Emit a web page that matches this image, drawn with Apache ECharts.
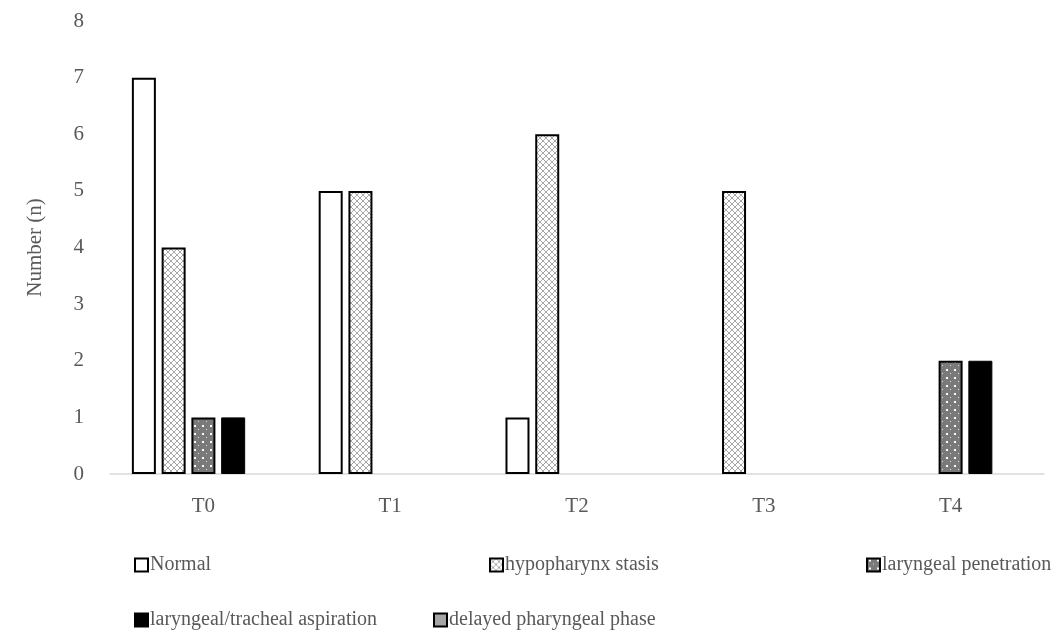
<!DOCTYPE html>
<html>
<head>
<meta charset="utf-8">
<script src="https://cdn.jsdelivr.net/npm/echarts@6/dist/echarts.min.js"></script>
<style>
html,body{margin:0;padding:0;background:#fff;}
#chart{width:1053px;height:637px;}
</style>
</head>
<body>
<div id="chart"></div>
<script>
var categories = ['T0', 'T1', 'T2', 'T3', 'T4'];
var seriesNames = ['Normal', 'hypopharynx stasis', 'laryngeal penetration', 'laryngeal/tracheal aspiration', 'delayed pharyngeal phase'];
var normal = [7, 5, 1, 0, 0];
var hypopharynxStasis = [4, 5, 6, 5, 0];
var laryngealPenetration = [1, 0, 0, 0, 2];
var aspiration = [1, 0, 0, 0, 2];
var delayedPharyngeal = [0, 0, 0, 0, 0];
var yTicks = [0, 1, 2, 3, 4, 5, 6, 7, 8];

function makeHatch() {
  var c = document.createElement('canvas');
  c.width = 6; c.height = 6;
  var g = c.getContext('2d');
  g.fillStyle = '#ffffff'; g.fillRect(0, 0, 6, 6);
  g.fillStyle = '#a8a8a8';
  var pts = [[0,0],[1,1],[2,2],[3,3],[4,4],[5,5],[5,0],[4,1],[3,2],[2,3],[1,4],[0,5]];
  pts.forEach(function (p) { g.fillRect(p[0], p[1], 1, 1); });
  return c;
}
function makeDots() {
  var c = document.createElement('canvas');
  c.width = 8; c.height = 8;
  var g = c.getContext('2d');
  g.fillStyle = '#7a7a7a'; g.fillRect(0, 0, 8, 8);
  g.fillStyle = '#ffffff';
  g.fillRect(2, 1, 2, 2);
  g.fillStyle = '#dddddd';
  g.fillRect(6, 5, 1, 1);
  return c;
}

var FONT = 'Liberation Serif';
var TEXT = '#595959';

var styles = [
  { color: '#ffffff', borderColor: '#000000', borderWidth: 2 },
  { color: { image: makeHatch(), repeat: 'repeat' }, borderColor: '#000000', borderWidth: 2 },
  { color: { image: makeDots(), repeat: 'repeat' }, borderColor: '#000000', borderWidth: 2 },
  { color: '#000000', borderColor: '#000000', borderWidth: 1 },
  { color: '#a5a5a5', borderColor: '#000000', borderWidth: 2 }
];
var dataSets = [normal, hypopharynxStasis, laryngealPenetration, aspiration, delayedPharyngeal];

var series = seriesNames.map(function (name, i) {
  return {
    name: name,
    type: 'bar',
    barWidth: 24,
    barGap: '24%',
    barCategoryGap: '24%',
    itemStyle: styles[i],
    data: dataSets[i].map(function (v) { return v === 0 ? null : v; })
  };
});

var legendPos = [
  { left: 134, top: 555 },
  { left: 489, top: 555 },
  { left: 866, top: 555 },
  { left: 134, top: 610 },
  { left: 433, top: 610 }
];
var legends = seriesNames.map(function (name, i) {
  return {
    data: [name],
    left: legendPos[i].left,
    top: legendPos[i].top,
    width: 300,
    icon: 'rect',
    itemWidth: 13,
    itemHeight: 13,
    itemGap: 0,
    padding: 0,
    selectedMode: false,
    textStyle: { fontFamily: FONT, fontSize: 20, color: TEXT, padding: [0, 0, 0, -3], overflow: 'none' }
  };
});

var chart = echarts.init(document.getElementById('chart'), null, { renderer: 'canvas' });
chart.setOption({
  animation: false,
  backgroundColor: '#ffffff',
  grid: { left: 110, right: 9, top: 21, bottom: 163, containLabel: false },
  legend: legends,
  xAxis: {
    type: 'category',
    data: categories,
    axisLine: { lineStyle: { color: '#d9d9d9', width: 1.5 } },
    axisTick: { show: false },
    axisLabel: { fontFamily: FONT, fontSize: 21, color: TEXT, margin: 22 }
  },
  yAxis: {
    type: 'value',
    min: yTicks[0],
    max: yTicks[yTicks.length - 1],
    interval: 1,
    name: 'Number (n)',
    nameLocation: 'middle',
    nameGap: 64,
    nameTextStyle: { fontFamily: FONT, fontSize: 21, color: TEXT },
    axisLine: { show: false },
    axisTick: { show: false },
    splitLine: { show: false },
    axisLabel: { fontFamily: FONT, fontSize: 21, color: TEXT, margin: 26 }
  },
  series: series
});
</script>
</body>
</html>
